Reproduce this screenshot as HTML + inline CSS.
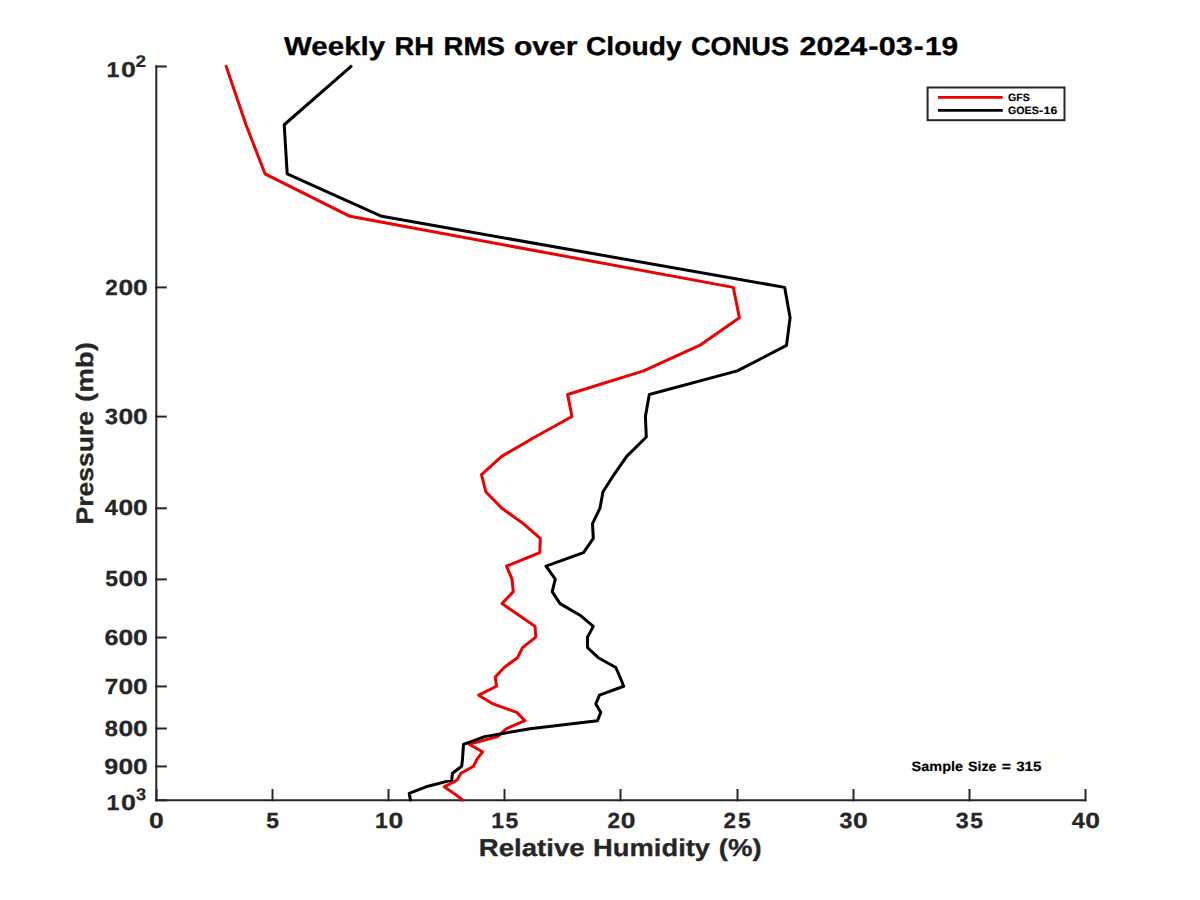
<!DOCTYPE html><html><head><meta charset="utf-8"><title>Weekly RH RMS</title><style>html,body{margin:0;padding:0;background:#fff;overflow:hidden}svg{display:block} text{text-rendering:geometricPrecision}</style></head><body>
<svg width="1200" height="900" viewBox="0 0 1200 900">
<rect width="1200" height="900" fill="#fff"/>
<g stroke="#262626" stroke-width="2" fill="none" stroke-linecap="square">
<path d="M156.3,66.5 V800.3 H1085.5"/>
<path d="M156.3,66.50 h9.5"/>
<path d="M156.3,287.40 h9.5"/>
<path d="M156.3,416.61 h9.5"/>
<path d="M156.3,508.29 h9.5"/>
<path d="M156.3,579.40 h9.5"/>
<path d="M156.3,637.51 h9.5"/>
<path d="M156.3,686.45 h9.5"/>
<path d="M156.3,728.50 h9.5"/>
<path d="M156.3,766.45 h9.5"/>
<path d="M156.3,800.30 h9.5"/>
<path d="M156.50,800.3 v-10.3"/>
<path d="M272.50,800.3 v-10.3"/>
<path d="M388.50,800.3 v-10.3"/>
<path d="M504.50,800.3 v-10.3"/>
<path d="M620.50,800.3 v-10.3"/>
<path d="M737.50,800.3 v-10.3"/>
<path d="M853.50,800.3 v-10.3"/>
<path d="M969.50,800.3 v-10.3"/>
<path d="M1085.50,800.3 v-10.3"/>
</g>
<polyline points="226.3,66.70 246.0,124.75 265.0,173.83 350.0,216.34 733.3,287.39 739.4,317.73 699.6,345.43 643.6,370.92 567.6,394.51 572.0,416.48 535.0,437.03 501.7,456.33 481.5,474.53 485.8,491.74 501.7,508.07 523.3,523.60 540.3,538.42 539.8,552.57 506.5,566.12 512.0,579.11 513.3,591.60 502.0,603.62 519.0,615.20 535.0,626.37 535.8,637.16 522.5,647.60 517.5,657.71 504.2,667.51 495.3,677.01 496.5,686.24 478.7,695.21 493.2,703.93 516.8,712.42 525.0,720.69 506.2,728.76 497.6,736.62 469.0,744.29 482.5,751.78 477.0,759.10 473.5,766.26 461.0,773.25 457.0,780.10 444.2,786.80 453.8,793.37 462.5,799.80" fill="none" stroke="#ee0000" stroke-width="3" stroke-linejoin="round" stroke-linecap="square"/>
<polyline points="350.8,66.70 284.2,124.75 287.2,173.83 381.7,216.34 784.7,287.39 790.1,317.73 786.5,345.43 737.3,370.92 649.3,394.51 645.4,416.48 646.3,437.03 626.7,456.33 614.0,474.53 603.0,491.74 600.0,508.07 592.5,523.60 593.3,538.42 583.5,552.57 546.0,566.12 555.3,579.11 552.2,591.60 560.0,603.62 580.0,615.20 593.3,626.37 587.5,637.16 587.5,647.60 598.3,657.71 615.8,667.51 620.0,677.01 623.7,686.24 599.5,695.21 595.8,703.93 600.8,712.42 597.5,720.69 530.0,728.76 484.6,736.62 463.5,744.29 463.0,751.78 462.5,759.10 461.7,766.26 452.5,773.25 451.7,780.10 426.0,786.80 409.2,793.37 410.4,799.80" fill="none" stroke="#000" stroke-width="3" stroke-linejoin="round" stroke-linecap="square"/>
<text transform="translate(105.26,294.77) scale(0.2244,0.2192)" font-family="'Liberation Sans', sans-serif" font-weight="bold" stroke-width="1.2" paint-order="stroke" font-size="100" fill="#262626" stroke="#262626">2</text>
<text transform="translate(118.57,294.77) scale(0.2649,0.2192)" font-family="'Liberation Sans', sans-serif" font-weight="bold" stroke-width="1.2" paint-order="stroke" font-size="100" fill="#262626" stroke="#262626">0</text>
<text transform="translate(133.09,294.77) scale(0.2649,0.2192)" font-family="'Liberation Sans', sans-serif" font-weight="bold" stroke-width="1.2" paint-order="stroke" font-size="100" fill="#262626" stroke="#262626">0</text>
<text transform="translate(105.02,423.77) scale(0.2329,0.2192)" font-family="'Liberation Sans', sans-serif" font-weight="bold" stroke-width="1.2" paint-order="stroke" font-size="100" fill="#262626" stroke="#262626">3</text>
<text transform="translate(118.57,423.77) scale(0.2649,0.2192)" font-family="'Liberation Sans', sans-serif" font-weight="bold" stroke-width="1.2" paint-order="stroke" font-size="100" fill="#262626" stroke="#262626">0</text>
<text transform="translate(133.09,423.77) scale(0.2649,0.2192)" font-family="'Liberation Sans', sans-serif" font-weight="bold" stroke-width="1.2" paint-order="stroke" font-size="100" fill="#262626" stroke="#262626">0</text>
<text transform="translate(104.84,514.67) scale(0.2349,0.2192)" font-family="'Liberation Sans', sans-serif" font-weight="bold" stroke-width="1.2" paint-order="stroke" font-size="100" fill="#262626" stroke="#262626">4</text>
<text transform="translate(118.57,514.67) scale(0.2649,0.2192)" font-family="'Liberation Sans', sans-serif" font-weight="bold" stroke-width="1.2" paint-order="stroke" font-size="100" fill="#262626" stroke="#262626">0</text>
<text transform="translate(133.09,514.67) scale(0.2649,0.2192)" font-family="'Liberation Sans', sans-serif" font-weight="bold" stroke-width="1.2" paint-order="stroke" font-size="100" fill="#262626" stroke="#262626">0</text>
<text transform="translate(105.25,585.77) scale(0.2283,0.2192)" font-family="'Liberation Sans', sans-serif" font-weight="bold" stroke-width="1.2" paint-order="stroke" font-size="100" fill="#262626" stroke="#262626">5</text>
<text transform="translate(118.57,585.77) scale(0.2649,0.2192)" font-family="'Liberation Sans', sans-serif" font-weight="bold" stroke-width="1.2" paint-order="stroke" font-size="100" fill="#262626" stroke="#262626">0</text>
<text transform="translate(133.09,585.77) scale(0.2649,0.2192)" font-family="'Liberation Sans', sans-serif" font-weight="bold" stroke-width="1.2" paint-order="stroke" font-size="100" fill="#262626" stroke="#262626">0</text>
<text transform="translate(104.51,644.67) scale(0.2507,0.2192)" font-family="'Liberation Sans', sans-serif" font-weight="bold" stroke-width="1.2" paint-order="stroke" font-size="100" fill="#262626" stroke="#262626">6</text>
<text transform="translate(118.57,644.67) scale(0.2649,0.2192)" font-family="'Liberation Sans', sans-serif" font-weight="bold" stroke-width="1.2" paint-order="stroke" font-size="100" fill="#262626" stroke="#262626">0</text>
<text transform="translate(133.09,644.67) scale(0.2649,0.2192)" font-family="'Liberation Sans', sans-serif" font-weight="bold" stroke-width="1.2" paint-order="stroke" font-size="100" fill="#262626" stroke="#262626">0</text>
<text transform="translate(104.75,693.67) scale(0.2428,0.2192)" font-family="'Liberation Sans', sans-serif" font-weight="bold" stroke-width="1.2" paint-order="stroke" font-size="100" fill="#262626" stroke="#262626">7</text>
<text transform="translate(118.57,693.67) scale(0.2649,0.2192)" font-family="'Liberation Sans', sans-serif" font-weight="bold" stroke-width="1.2" paint-order="stroke" font-size="100" fill="#262626" stroke="#262626">0</text>
<text transform="translate(133.09,693.67) scale(0.2649,0.2192)" font-family="'Liberation Sans', sans-serif" font-weight="bold" stroke-width="1.2" paint-order="stroke" font-size="100" fill="#262626" stroke="#262626">0</text>
<text transform="translate(104.81,735.72) scale(0.2366,0.2192)" font-family="'Liberation Sans', sans-serif" font-weight="bold" stroke-width="1.2" paint-order="stroke" font-size="100" fill="#262626" stroke="#262626">8</text>
<text transform="translate(118.57,735.72) scale(0.2649,0.2192)" font-family="'Liberation Sans', sans-serif" font-weight="bold" stroke-width="1.2" paint-order="stroke" font-size="100" fill="#262626" stroke="#262626">0</text>
<text transform="translate(133.09,735.72) scale(0.2649,0.2192)" font-family="'Liberation Sans', sans-serif" font-weight="bold" stroke-width="1.2" paint-order="stroke" font-size="100" fill="#262626" stroke="#262626">0</text>
<text transform="translate(104.30,773.62) scale(0.2507,0.2192)" font-family="'Liberation Sans', sans-serif" font-weight="bold" stroke-width="1.2" paint-order="stroke" font-size="100" fill="#262626" stroke="#262626">9</text>
<text transform="translate(118.57,773.62) scale(0.2649,0.2192)" font-family="'Liberation Sans', sans-serif" font-weight="bold" stroke-width="1.2" paint-order="stroke" font-size="100" fill="#262626" stroke="#262626">0</text>
<text transform="translate(133.09,773.62) scale(0.2649,0.2192)" font-family="'Liberation Sans', sans-serif" font-weight="bold" stroke-width="1.2" paint-order="stroke" font-size="100" fill="#262626" stroke="#262626">0</text>
<text transform="translate(106.61,76.60) scale(0.2319,0.2145)" font-family="'Liberation Sans', sans-serif" font-weight="bold" stroke-width="1.2" paint-order="stroke" font-size="100" fill="#262626" stroke="#262626">1</text>
<text transform="translate(120.93,76.68) scale(0.2681,0.2169)" font-family="'Liberation Sans', sans-serif" font-weight="bold" stroke-width="1.2" paint-order="stroke" font-size="100" fill="#262626" stroke="#262626">0</text>
<text transform="translate(135.53,66.65) scale(0.1898,0.1679)" font-family="'Liberation Sans', sans-serif" font-weight="bold" stroke-width="1.2" paint-order="stroke" font-size="100" fill="#262626" stroke="#262626">2</text>
<text transform="translate(106.61,809.60) scale(0.2319,0.2130)" font-family="'Liberation Sans', sans-serif" font-weight="bold" stroke-width="1.2" paint-order="stroke" font-size="100" fill="#262626" stroke="#262626">1</text>
<text transform="translate(120.93,809.68) scale(0.2681,0.2183)" font-family="'Liberation Sans', sans-serif" font-weight="bold" stroke-width="1.2" paint-order="stroke" font-size="100" fill="#262626" stroke="#262626">0</text>
<text transform="translate(135.94,799.53) scale(0.1820,0.1683)" font-family="'Liberation Sans', sans-serif" font-weight="bold" stroke-width="1.2" paint-order="stroke" font-size="100" fill="#262626" stroke="#262626">3</text>
<text transform="translate(149.06,827.57) scale(0.2649,0.2192)" font-family="'Liberation Sans', sans-serif" font-weight="bold" stroke-width="1.2" paint-order="stroke" font-size="100" fill="#262626" stroke="#262626">0</text>
<text transform="translate(266.20,827.57) scale(0.2282,0.2192)" font-family="'Liberation Sans', sans-serif" font-weight="bold" stroke-width="1.2" paint-order="stroke" font-size="100" fill="#262626" stroke="#262626">5</text>
<text transform="translate(375.07,827.57) scale(0.2296,0.2192)" font-family="'Liberation Sans', sans-serif" font-weight="bold" stroke-width="1.2" paint-order="stroke" font-size="100" fill="#262626" stroke="#262626">1</text>
<text transform="translate(388.46,827.57) scale(0.2649,0.2192)" font-family="'Liberation Sans', sans-serif" font-weight="bold" stroke-width="1.2" paint-order="stroke" font-size="100" fill="#262626" stroke="#262626">0</text>
<text transform="translate(491.22,827.57) scale(0.2296,0.2192)" font-family="'Liberation Sans', sans-serif" font-weight="bold" stroke-width="1.2" paint-order="stroke" font-size="100" fill="#262626" stroke="#262626">1</text>
<text transform="translate(505.60,827.57) scale(0.2283,0.2192)" font-family="'Liberation Sans', sans-serif" font-weight="bold" stroke-width="1.2" paint-order="stroke" font-size="100" fill="#262626" stroke="#262626">5</text>
<text transform="translate(607.45,827.57) scale(0.2244,0.2192)" font-family="'Liberation Sans', sans-serif" font-weight="bold" stroke-width="1.2" paint-order="stroke" font-size="100" fill="#262626" stroke="#262626">2</text>
<text transform="translate(620.76,827.57) scale(0.2649,0.2192)" font-family="'Liberation Sans', sans-serif" font-weight="bold" stroke-width="1.2" paint-order="stroke" font-size="100" fill="#262626" stroke="#262626">0</text>
<text transform="translate(723.60,827.57) scale(0.2244,0.2192)" font-family="'Liberation Sans', sans-serif" font-weight="bold" stroke-width="1.2" paint-order="stroke" font-size="100" fill="#262626" stroke="#262626">2</text>
<text transform="translate(737.90,827.57) scale(0.2283,0.2192)" font-family="'Liberation Sans', sans-serif" font-weight="bold" stroke-width="1.2" paint-order="stroke" font-size="100" fill="#262626" stroke="#262626">5</text>
<text transform="translate(839.51,827.57) scale(0.2329,0.2192)" font-family="'Liberation Sans', sans-serif" font-weight="bold" stroke-width="1.2" paint-order="stroke" font-size="100" fill="#262626" stroke="#262626">3</text>
<text transform="translate(853.06,827.57) scale(0.2649,0.2192)" font-family="'Liberation Sans', sans-serif" font-weight="bold" stroke-width="1.2" paint-order="stroke" font-size="100" fill="#262626" stroke="#262626">0</text>
<text transform="translate(955.66,827.57) scale(0.2329,0.2192)" font-family="'Liberation Sans', sans-serif" font-weight="bold" stroke-width="1.2" paint-order="stroke" font-size="100" fill="#262626" stroke="#262626">3</text>
<text transform="translate(970.20,827.57) scale(0.2283,0.2192)" font-family="'Liberation Sans', sans-serif" font-weight="bold" stroke-width="1.2" paint-order="stroke" font-size="100" fill="#262626" stroke="#262626">5</text>
<text transform="translate(1071.63,827.57) scale(0.2349,0.2192)" font-family="'Liberation Sans', sans-serif" font-weight="bold" stroke-width="1.2" paint-order="stroke" font-size="100" fill="#262626" stroke="#262626">4</text>
<text transform="translate(1085.36,827.57) scale(0.2649,0.2192)" font-family="'Liberation Sans', sans-serif" font-weight="bold" stroke-width="1.2" paint-order="stroke" font-size="100" fill="#262626" stroke="#262626">0</text>
<text transform="translate(284.00,54.73) scale(0.2951,0.2587)" font-family="'Liberation Sans', sans-serif" font-weight="bold" stroke-width="1.2" paint-order="stroke" font-size="100" fill="#000" stroke="#000">Weekly</text>
<text transform="translate(394.55,54.73) scale(0.2734,0.2587)" font-family="'Liberation Sans', sans-serif" font-weight="bold" stroke-width="1.2" paint-order="stroke" font-size="100" fill="#000" stroke="#000">RH</text>
<text transform="translate(443.62,54.73) scale(0.2754,0.2587)" font-family="'Liberation Sans', sans-serif" font-weight="bold" stroke-width="1.2" paint-order="stroke" font-size="100" fill="#000" stroke="#000">RMS</text>
<text transform="translate(513.98,54.73) scale(0.3003,0.2587)" font-family="'Liberation Sans', sans-serif" font-weight="bold" stroke-width="1.2" paint-order="stroke" font-size="100" fill="#000" stroke="#000">over</text>
<text transform="translate(585.93,54.73) scale(0.2827,0.2587)" font-family="'Liberation Sans', sans-serif" font-weight="bold" stroke-width="1.2" paint-order="stroke" font-size="100" fill="#000" stroke="#000">Cloudy</text>
<text transform="translate(690.92,54.73) scale(0.2718,0.2587)" font-family="'Liberation Sans', sans-serif" font-weight="bold" stroke-width="1.2" paint-order="stroke" font-size="100" fill="#000" stroke="#000">CONUS</text>
<text transform="translate(799.55,54.73) scale(0.3042,0.2587)" font-family="'Liberation Sans', sans-serif" font-weight="bold" stroke-width="1.2" paint-order="stroke" font-size="100" fill="#000" stroke="#000">2024</text>
<text transform="translate(868.35,54.73) scale(0.3106,0.2587)" font-family="'Liberation Sans', sans-serif" font-weight="bold" stroke-width="1.2" paint-order="stroke" font-size="100" fill="#000" stroke="#000">-</text>
<text transform="translate(878.63,54.73) scale(0.3064,0.2587)" font-family="'Liberation Sans', sans-serif" font-weight="bold" stroke-width="1.2" paint-order="stroke" font-size="100" fill="#000" stroke="#000">03</text>
<text transform="translate(913.72,54.73) scale(0.3006,0.2587)" font-family="'Liberation Sans', sans-serif" font-weight="bold" stroke-width="1.2" paint-order="stroke" font-size="100" fill="#000" stroke="#000">-</text>
<text transform="translate(924.89,54.73) scale(0.3001,0.2587)" font-family="'Liberation Sans', sans-serif" font-weight="bold" stroke-width="1.2" paint-order="stroke" font-size="100" fill="#000" stroke="#000">19</text>
<text transform="translate(478.87,855.89) scale(0.2757,0.2430)" font-family="'Liberation Sans', sans-serif" font-weight="bold" stroke-width="1.2" paint-order="stroke" font-size="100" fill="#262626" stroke="#262626">Relative</text>
<text transform="translate(592.97,855.89) scale(0.2738,0.2430)" font-family="'Liberation Sans', sans-serif" font-weight="bold" stroke-width="1.2" paint-order="stroke" font-size="100" fill="#262626" stroke="#262626">Humidity</text>
<text transform="translate(718.85,855.89) scale(0.2752,0.2430)" font-family="'Liberation Sans', sans-serif" font-weight="bold" stroke-width="1.2" paint-order="stroke" font-size="100" fill="#262626" stroke="#262626">(%)</text>
<text transform="translate(93.03,524.56) rotate(-90) scale(0.2656,0.2395)" font-family="'Liberation Sans', sans-serif" font-weight="bold" stroke-width="1.2" paint-order="stroke" font-size="100" fill="#262626" stroke="#262626">Pressure</text>
<text transform="translate(93.03,402.04) rotate(-90) scale(0.2771,0.2395)" font-family="'Liberation Sans', sans-serif" font-weight="bold" stroke-width="1.2" paint-order="stroke" font-size="100" fill="#262626" stroke="#262626">(mb)</text>
<rect x="927.6" y="87.5" width="136.9" height="32.7" fill="#fff" stroke="#262626" stroke-width="2"/>
<path d="M938,97.3 H1002.7" stroke="#ee0000" stroke-width="2.8"/>
<path d="M938,110.3 H1002.7" stroke="#000" stroke-width="2.8"/>
<text transform="translate(1008.07,101.40) scale(0.1066,0.1050)" font-family="'Liberation Sans', sans-serif" font-weight="bold" stroke-width="1.2" paint-order="stroke" font-size="100" fill="#000" stroke="#000">GFS</text>
<text transform="translate(1008.08,114.07) scale(0.1060,0.1061)" font-family="'Liberation Sans', sans-serif" font-weight="bold" stroke-width="1.2" paint-order="stroke" font-size="100" fill="#000" stroke="#000">GOES</text>
<text transform="translate(1039.11,114.07) scale(0.1252,0.1061)" font-family="'Liberation Sans', sans-serif" font-weight="bold" stroke-width="1.2" paint-order="stroke" font-size="100" fill="#000" stroke="#000">-</text>
<text transform="translate(1043.62,114.07) scale(0.1230,0.1061)" font-family="'Liberation Sans', sans-serif" font-weight="bold" stroke-width="1.2" paint-order="stroke" font-size="100" fill="#000" stroke="#000">16</text>
<text transform="translate(911.57,770.79) scale(0.1449,0.1353)" font-family="'Liberation Sans', sans-serif" font-weight="bold" stroke-width="1.2" paint-order="stroke" font-size="100" fill="#000" stroke="#000">Sample</text>
<text transform="translate(968.02,770.79) scale(0.1423,0.1353)" font-family="'Liberation Sans', sans-serif" font-weight="bold" stroke-width="1.2" paint-order="stroke" font-size="100" fill="#000" stroke="#000">Size</text>
<text transform="translate(1001.66,770.79) scale(0.1573,0.1353)" font-family="'Liberation Sans', sans-serif" font-weight="bold" stroke-width="1.2" paint-order="stroke" font-size="100" fill="#000" stroke="#000">=</text>
<text transform="translate(1016.19,770.79) scale(0.1513,0.1353)" font-family="'Liberation Sans', sans-serif" font-weight="bold" stroke-width="1.2" paint-order="stroke" font-size="100" fill="#000" stroke="#000">315</text>
</svg></body></html>
